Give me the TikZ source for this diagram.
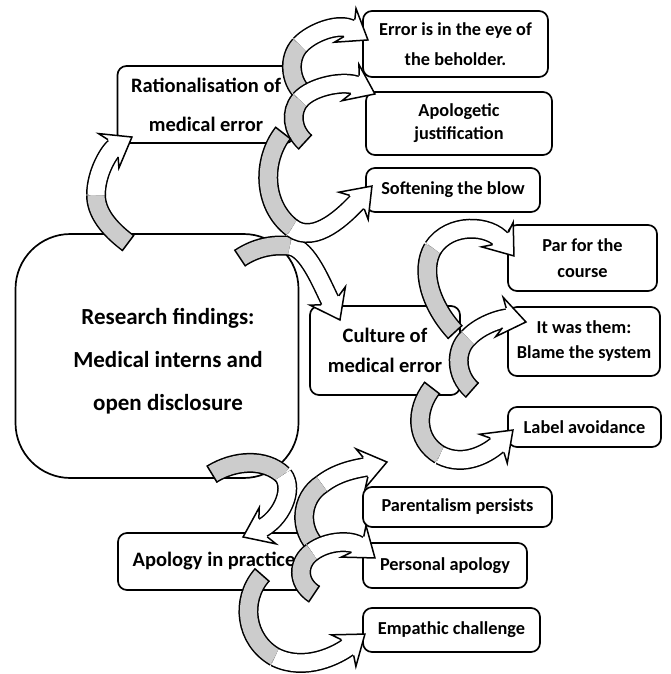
\documentclass[tikz,border=0pt]{standalone}
\usepackage{fontspec}
\setmainfont{Carlito}
\usepackage{tikz}
\usetikzlibrary{positioning, decorations.markings}
\tikzstyle{box} = [rectangle, draw=black, line width=1.7pt, rounded corners=9pt, fill=white, align=center, inner sep=0pt, font=\bfseries\fontsize{18.3}{24}\selectfont]
\tikzstyle{topic} = [box, font=\bfseries\fontsize{20.5}{30}\selectfont]
\tikzstyle{hub} = [box, rounded corners=55pt, font=\bfseries\fontsize{23}{43}\selectfont]
\tikzstyle{back} = [draw=gray!40, line width=17pt, preaction={draw=black, line width=20pt}, postaction={decorate, decoration={markings, mark=at position 0 with {\draw[draw=black, line width=1.5pt] (0pt,-10pt) -- (0pt,10pt);}}}]
\tikzstyle{front} = [draw=white, line width=17pt, preaction={draw=black, line width=20pt}, shorten >=19pt, postaction={decorate, decoration={markings, mark=at position 0.999 with {\fill[white, shorten >=0pt] (-22pt,-10pt) -- (-27pt,-20pt) -- (0pt,0pt) -- (-27pt,20pt) -- (-22pt,10pt) -- cycle; \draw[draw=black, line width=1.5pt, line join=miter, shorten >=0pt] (-22pt,10pt) -- (-27pt,20pt) -- (0pt,0pt) -- (-27pt,-20pt) -- (-22pt,-10pt);}}}]

\begin{document}
\begin{tikzpicture}[x=1pt, y=-1pt]
    \useasboundingbox (0,0) rectangle (670,674);
    % Nodes
    \node [hub, minimum width=283pt, minimum height=244pt] (findings) at (157,356) {\hspace*{22pt}\rule{0pt}{26pt}Research findings:\\\hspace*{22pt}Medical interns and\\\hspace*{22pt}open disclosure};
    \node [topic, minimum width=177pt, minimum height=77pt, font=\bfseries\fontsize{20.5}{39}\selectfont] (ratio) at (206,104.5) {Rationalisation of\\medical error};
    \node [topic, minimum width=150pt, minimum height=89pt] (culture) at (385,350.5) {Culture of\\medical error};
    \node [topic, minimum width=192pt, minimum height=57pt] (apology) at (214,561.5) {Apology in practice};
    \node [box, minimum width=185pt, minimum height=66pt, font=\bfseries\fontsize{18.3}{30}\selectfont] (eye) at (455.5,44) {Error is in the eye of\\the beholder.};
    \node [box, minimum width=186pt, minimum height=63pt, font=\bfseries\fontsize{18.3}{23}\selectfont] (justify) at (459,123.5) {Apologetic\\justification};
    \node [box, minimum width=174pt, minimum height=44pt] (soften) at (453,190) {Softening the blow};
    \node [box, minimum width=149pt, minimum height=66pt, font=\bfseries\fontsize{18.3}{26}\selectfont] (course) at (582.5,258) {Par for the\\course};
    \node [box, minimum width=152pt, minimum height=69pt, font=\bfseries\fontsize{18.3}{25}\selectfont] (them) at (584,341.5) {It was them:\\Blame the system};
    \node [box, minimum width=153pt, minimum height=40pt] (avoid) at (584.5,427) {Label avoidance};
    \node [box, minimum width=189pt, minimum height=40pt] (parent) at (457.5,507) {Parentalism persists};
    \node [box, minimum width=164pt, minimum height=45pt] (personal) at (445,565.5) {Personal apology};
    \node [box, minimum width=177pt, minimum height=44pt] (empathy) at (451.5,630) {Empathic challenge};

    % Arrow ends
    \coordinate (a1s) at (128,243);  \coordinate (a1m) at (96,195);   \coordinate (a1e) at (132,137);
    \coordinate (a2s) at (240,258);  \coordinate (a2m) at (290,246);  \coordinate (a2e) at (340,320);
    \coordinate (a3s) at (302,92);   \coordinate (a3m) at (300,45);   \coordinate (a3e) at (368,40);
    \coordinate (a4s) at (305,142);  \coordinate (a4m) at (300,100);  \coordinate (a4e) at (375,94);
    \coordinate (a5s) at (283,133);  \coordinate (a5m) at (292,228);  \coordinate (a5e) at (372,186);
    \coordinate (a6s) at (455,332);  \coordinate (a6m) at (433,248);  \coordinate (a6e) at (514,256);
    \coordinate (a7s) at (472,390);  \coordinate (a7m) at (468,338);  \coordinate (a7e) at (526,322);
    \coordinate (a8s) at (432,388);  \coordinate (a8m) at (440,455);  \coordinate (a8e) at (513,430);
    \coordinate (a9s) at (212,474);  \coordinate (a9m) at (283,475);  \coordinate (a9e) at (243,537);
    \coordinate (a10s) at (318,548); \coordinate (a10m) at (322,484); \coordinate (a10e) at (387,462);
    \coordinate (a11s) at (314,594); \coordinate (a11m) at (312,552); \coordinate (a11e) at (375,558);
    \coordinate (a12s) at (262,575); \coordinate (a12m) at (275,657); \coordinate (a12e) at (365,634);

    % Curved arrows
    \path [back] (a1s) .. controls (108,228) and (96,212) .. (a1m);
    \path [front] (a1m) .. controls (96,172) and (110,150) .. (a1e);
    \path [back] (a2s) .. controls (255,248) and (272,244) .. (a2m);
    \path [front] (a2m) .. controls (308,248) and (322,285) .. (a2e);

    \path [back] (a3s) .. controls (290,80) and (288,58) .. (a3m);
    \path [front] (a3m) .. controls (312,32) and (340,22) .. (a3e);
    \path [back] (a4s) .. controls (292,130) and (290,112) .. (a4m);
    \path [front] (a4m) .. controls (312,86) and (345,80) .. (a4e);
    \path [back] (a5s) .. controls (262,160) and (262,205) .. (a5m);
    \path [front] (a5m) .. controls (315,245) and (345,215) .. (a5e);

    \path [back] (a6s) .. controls (430,305) and (420,270) .. (a6m);
    \path [front] (a6m) .. controls (450,222) and (490,225) .. (a6e);
    \path [back] (a7s) .. controls (455,375) and (455,350) .. (a7m);
    \path [front] (a7m) .. controls (482,323) and (505,318) .. (a7e);
    \path [back] (a8s) .. controls (415,410) and (415,440) .. (a8m);
    \path [front] (a8m) .. controls (465,468) and (490,452) .. (a8e);

    \path [back] (a9s) .. controls (235,460) and (265,458) .. (a9m);
    \path [front] (a9m) .. controls (295,490) and (280,520) .. (a9e);
    \path [back] (a10s) .. controls (298,530) and (300,498) .. (a10m);
    \path [front] (a10m) .. controls (340,470) and (362,468) .. (a10e);
    \path [back] (a11s) .. controls (296,582) and (298,562) .. (a11m);
    \path [front] (a11m) .. controls (328,540) and (352,540) .. (a11e);
    \path [back] (a12s) .. controls (240,600) and (245,640) .. (a12m);
    \path [front] (a12m) .. controls (305,672) and (338,655) .. (a12e);
\end{tikzpicture}
\end{document}
